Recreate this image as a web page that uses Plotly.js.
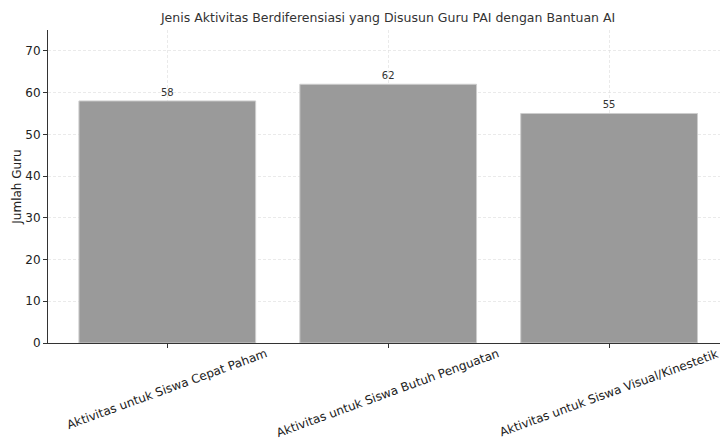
<!DOCTYPE html>
<html>
<head>
<meta charset="utf-8">
<script src="https://cdn.plot.ly/plotly-3.0.1.min.js"></script>
<style>html,body{margin:0;padding:0;background:#fff}#chart{width:720px;height:442px}</style>
</head>
<body>
<div id="chart"></div>
<script>
const categories = ["Aktivitas untuk Siswa Cepat Paham", "Aktivitas untuk Siswa Butuh Penguatan", "Aktivitas untuk Siswa Visual/Kinestetik"];
const values = [58, 62, 55];
const yTicks = [0, 10, 20, 30, 40, 50, 60, 70];
const xPos = categories.map((c, i) => i);

const trace = {
  type: "bar",
  x: xPos,
  y: values,
  width: 0.8,
  marker: {color: "rgb(154,154,154)", line: {color: "rgb(205,205,205)", width: 1}},
  text: values.map(String),
  textposition: "outside",
  textfont: {family: "DejaVu Sans", size: 10, color: "#333"},
  cliponaxis: false,
  hoverinfo: "skip"
};

const tickAnnotations = categories.map((c, i) => ({
  x: xPos[i], xref: "x", y: 0, yref: "paper",
  text: c, showarrow: false, textangle: -20,
  xanchor: "center", yanchor: "top", yshift: -1,
  font: {family: "DejaVu Sans", size: 12, color: "#222"}
}));

const layout = {
  width: 720, height: 442,
  margin: {l: 48, r: 0, t: 30, b: 99},
  paper_bgcolor: "#fff", plot_bgcolor: "#fff",
  font: {family: "DejaVu Sans", color: "#222"},
  title: {text: "Jenis Aktivitas Berdiferensiasi yang Disusun Guru PAI dengan Bantuan AI", font: {size: 12.5, color: "#333"}, x: 0.539, xanchor: "center", y: 0.96, yanchor: "middle"},
  showlegend: false,
  annotations: tickAnnotations,
  xaxis: {
    range: [-0.54, 2.502],
    tickmode: "array", tickvals: xPos, ticktext: categories.map(() => ""),
    showline: true, linecolor: "#333", linewidth: 1,
    ticks: "outside", ticklen: 4, tickcolor: "#333",
    showgrid: true, gridcolor: "#dcdcdc", griddash: "3px,2px", gridwidth: 0.6,
    zeroline: false
  },
  yaxis: {
    range: [0, 75],
    tickmode: "array", tickvals: yTicks,
    tickfont: {size: 12, color: "#222"},
    title: {text: "Jumlah Guru", font: {size: 12, color: "#222"}, standoff: 1},
    showline: true, linecolor: "#333", linewidth: 1,
    ticks: "outside", ticklen: 4, tickcolor: "#333",
    showgrid: true, gridcolor: "#dcdcdc", griddash: "3px,2px", gridwidth: 0.6,
    zeroline: false
  }
};

Plotly.newPlot("chart", [trace], layout, {displayModeBar: false, staticPlot: true});
</script>
</body>
</html>
